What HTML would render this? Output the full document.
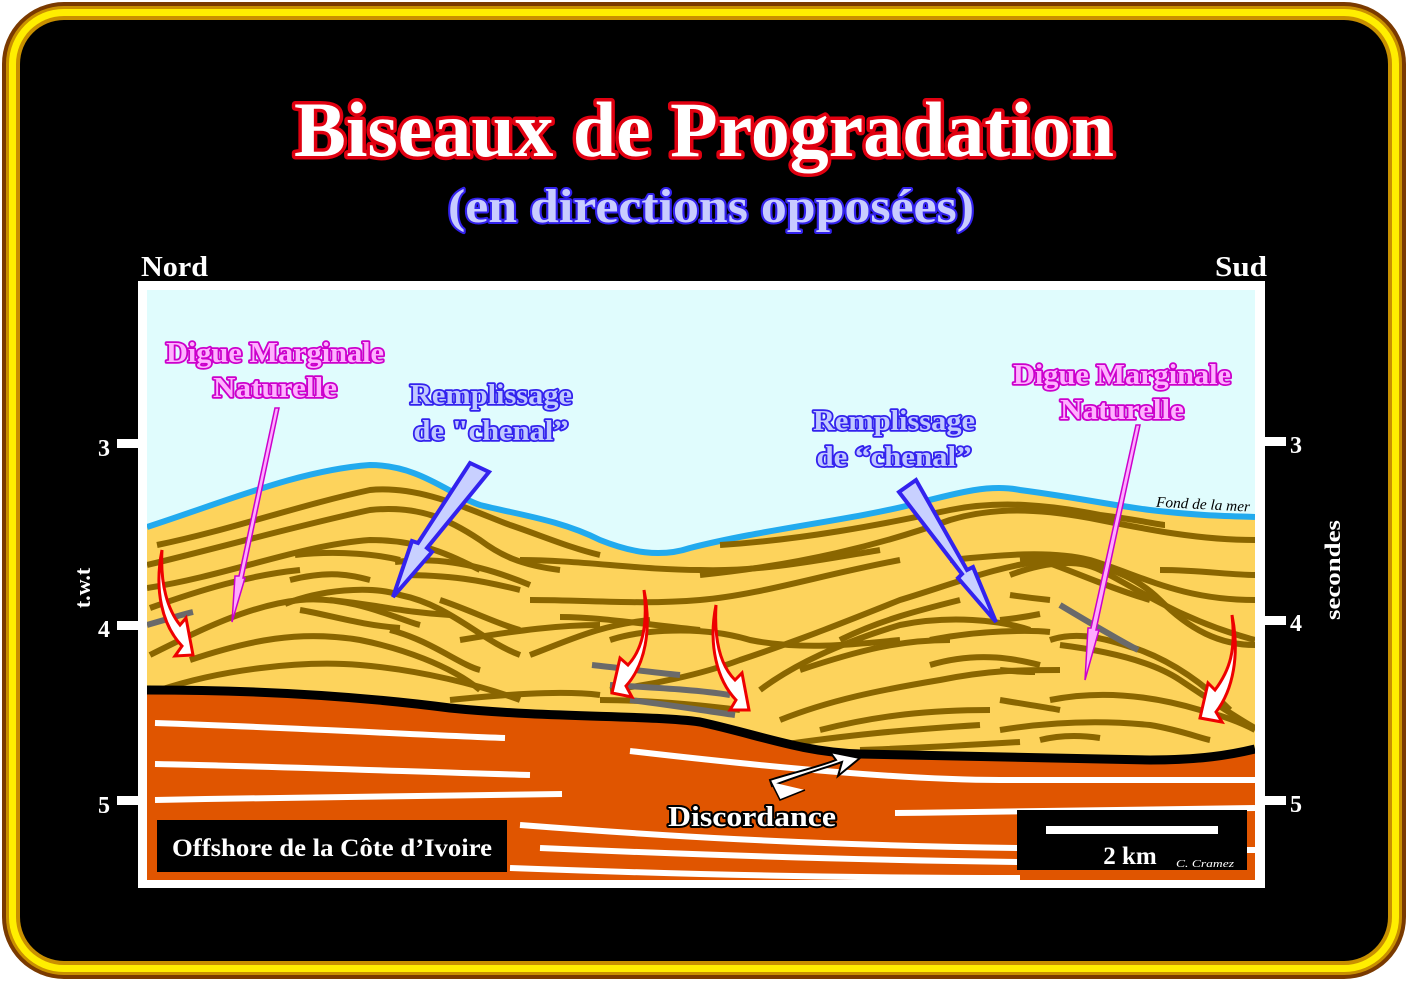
<!DOCTYPE html>
<html><head><meta charset="utf-8"><style>
html,body{margin:0;padding:0;background:#fff;}
svg{display:block;}
</style></head><body>
<svg width="1408" height="981" viewBox="0 0 1408 981" xmlns="http://www.w3.org/2000/svg">
<defs>
<clipPath id="cp"><rect x="147" y="290" width="1108" height="590"/></clipPath>
</defs>
<rect width="1408" height="981" fill="#fff"/>
<rect x="2" y="2" width="1404" height="977" rx="62" fill="#7a3a00"/>
<rect x="6" y="6" width="1396" height="969" rx="58" fill="#c99000"/>
<rect x="9" y="9" width="1390" height="963" rx="55" fill="#ffee00"/>
<rect x="16" y="16" width="1376" height="949" rx="48" fill="#c99000"/>
<rect x="20" y="20" width="1368" height="941" rx="44" fill="#000"/>

<g font-family="Liberation Serif, serif" font-weight="bold" text-anchor="middle" paint-order="stroke" stroke-linejoin="round" lengthAdjust="spacingAndGlyphs">
<text x="704" y="156" font-size="78" fill="#fff" stroke="#e00010" stroke-width="7" textLength="820" lengthAdjust="spacingAndGlyphs">Biseaux de Progradation</text>
<text x="711" y="222" font-size="48" fill="#c8ccff" stroke="#3322ee" stroke-width="4" textLength="526" lengthAdjust="spacingAndGlyphs">(en directions opposées)</text>
</g>
<g font-family="Liberation Serif, serif" font-weight="bold" fill="#fff">
<text x="141" y="276" font-size="28" textLength="67" lengthAdjust="spacingAndGlyphs">Nord</text>
<text x="1215" y="276" font-size="28" textLength="52" lengthAdjust="spacingAndGlyphs">Sud</text>
<text x="104" y="456" font-size="24" text-anchor="middle">3</text>
<text x="104" y="637" font-size="24" text-anchor="middle">4</text>
<text x="104" y="813" font-size="24" text-anchor="middle">5</text>
<text x="1296" y="453" font-size="24" text-anchor="middle">3</text>
<text x="1296" y="631" font-size="24" text-anchor="middle">4</text>
<text x="1296" y="812" font-size="24" text-anchor="middle">5</text>
<text transform="translate(90,588) rotate(-90)" font-size="22" text-anchor="middle">t.w.t</text>
<text transform="translate(1340,570) rotate(-90)" font-size="22" text-anchor="middle" textLength="100" lengthAdjust="spacingAndGlyphs">secondes</text>
</g>
<g fill="#fff">
<rect x="117" y="439" width="22" height="9"/><rect x="117" y="621" width="22" height="9"/><rect x="117" y="796" width="22" height="9"/>
<rect x="1264" y="437" width="22" height="9"/><rect x="1264" y="616" width="22" height="9"/><rect x="1264" y="796" width="22" height="9"/>
</g>

<rect x="138" y="281" width="1127" height="607" fill="#fff"/>
<g clip-path="url(#cp)">
<rect x="147" y="290" width="1108" height="590" fill="#e0fcfd"/>
<path d="M147,527 C230,500 300,470 370,465 C420,465 450,495 480,505 C520,515 560,520 600,540 C630,552 660,558 690,548 C760,530 850,520 910,505 C960,492 990,484 1020,490 C1080,498 1110,505 1150,510 C1200,516 1230,516 1255,517 L1255,880 L147,880 Z" fill="#fdd35c"/>
<path d="M147,527 C230,500 300,470 370,465 C420,465 450,495 480,505 C520,515 560,520 600,540 C630,552 660,558 690,548 C760,530 850,520 910,505 C960,492 990,484 1020,490 C1080,498 1110,505 1150,510 C1200,516 1230,516 1255,517" fill="none" stroke="#22aaee" stroke-width="6"/>
<g fill="none" stroke="#8a6600" stroke-width="6" stroke-linecap="butt">
<path d="M157,545 C230,530 300,505 370,490 C420,485 470,510 510,525 C540,535 570,548 600,555"/>
<path d="M147,565 C230,545 300,525 370,510 C420,505 450,520 480,540 C500,555 520,565 560,570"/>
<path d="M147,588 C230,575 300,545 370,540 C420,540 450,555 480,570"/>
<path d="M150,608 C200,590 250,575 300,570"/>
<path d="M150,655 C200,630 250,605 300,600 C350,595 400,620 420,625"/>
<path d="M190,660 C250,640 300,630 360,640 C400,648 450,665 480,690"/>
<path d="M160,690 C220,670 300,660 360,665 C420,670 480,685 520,700"/>
<path d="M290,580 C330,570 350,575 370,580"/>
<path d="M285,604 C320,590 370,585 400,595 C450,605 480,640 520,655"/>
<path d="M300,610 C330,615 360,625 400,628"/>
<path d="M330,600 C380,605 400,612 450,615"/>
<path d="M295,555 C340,550 380,555 400,560"/>
<path d="M400,575 C450,575 480,580 520,590"/>
<path d="M395,562 C430,558 470,560 530,585"/>
<path d="M390,630 C430,640 460,665 480,670"/>
<path d="M440,600 C470,610 500,625 520,630"/>
<path d="M460,640 C520,630 560,625 600,625"/>
<path d="M450,700 C500,695 560,690 600,695"/>
<path d="M530,655 C570,640 600,625 650,620"/>
<path d="M600,700 C650,700 700,705 740,710"/>
<path d="M520,560 C580,560 640,570 700,570 C760,572 820,560 880,550"/>
<path d="M530,600 C590,600 640,605 700,600 C760,595 820,575 900,560"/>
<path d="M560,617 C600,617 650,625 700,630"/>
<path d="M610,640 C640,630 700,625 750,640 C800,650 850,645 900,640"/>
<path d="M610,690 C650,685 700,675 740,660 C800,640 850,620 900,600 C950,585 1000,565 1050,560"/>
<path d="M700,575 C800,565 880,545 950,520 C1000,505 1050,510 1100,520 C1150,530 1200,540 1255,540"/>
<path d="M720,545 C800,540 880,525 950,510 C1000,500 1050,505 1100,515 C1140,520 1160,525 1165,525"/>
<path d="M760,690 C800,660 850,640 900,625 C950,615 1000,620 1030,630"/>
<path d="M780,720 C830,700 880,690 940,680 C990,670 1020,670 1060,670"/>
<path d="M800,670 C860,650 900,640 950,640"/>
<path d="M840,640 C880,620 920,610 960,600"/>
<path d="M820,730 C880,715 930,710 990,710"/>
<path d="M780,745 C850,735 900,730 980,725"/>
<path d="M860,750 C920,748 970,745 1020,742"/>
<path d="M930,640 C980,630 1030,630 1050,632"/>
<path d="M930,665 C980,650 1020,660 1040,665"/>
<path d="M1010,575 C1050,560 1080,560 1100,570 C1140,590 1180,620 1255,640"/>
<path d="M1010,595 C1030,598 1050,600 1050,600"/>
<path d="M1000,620 C1020,618 1030,616 1040,614"/>
<path d="M950,560 C1000,555 1050,550 1090,560 C1140,575 1180,600 1255,600"/>
<path d="M1020,560 C1080,555 1130,570 1160,600 C1190,630 1220,645 1255,645"/>
<path d="M1050,640 C1080,630 1110,640 1140,650 C1180,665 1210,690 1230,710"/>
<path d="M1060,645 C1100,650 1150,660 1180,680 C1210,700 1240,720 1255,728"/>
<path d="M1000,670 C1020,672 1030,672 1035,672"/>
<path d="M1050,700 C1100,690 1150,695 1200,710 C1220,715 1240,722 1255,730"/>
<path d="M1000,730 C1050,722 1100,720 1150,725 C1180,730 1200,738 1210,740"/>
<path d="M1040,740 C1060,735 1080,735 1100,738"/>
<path d="M1000,700 C1030,705 1050,708 1060,710"/>
<path d="M1025,555 C1060,565 1100,585 1150,600"/>
<path d="M1160,570 C1200,570 1230,575 1255,575"/>
</g>
<g fill="none" stroke="#6a6a6a" stroke-width="6">
<path d="M147,625 C165,620 180,615 193,612"/>
<path d="M592,665 C620,668 650,672 680,675"/>
<path d="M610,685 C660,688 700,690 730,695"/>
<path d="M630,700 C670,705 700,710 735,715"/>
<path d="M1060,605 C1085,620 1110,635 1138,650"/>
</g>
<path d="M147,690 C250,690 350,695 450,708 C550,718 650,715 700,722 C760,735 800,752 860,754 C950,756 1050,758 1150,760 C1200,760 1230,755 1255,749 L1255,880 L147,880 Z" fill="#e05500"/>
<path d="M147,690 C250,690 350,695 450,708 C550,718 650,715 700,722 C760,735 800,752 860,754 C950,756 1050,758 1150,760 C1200,760 1230,755 1255,749" fill="none" stroke="#000" stroke-width="9"/>
<g fill="none" stroke="#fff" stroke-width="6">
<path d="M155,723 C300,728 420,735 505,738"/>
<path d="M155,764 C300,767 420,772 530,775"/>
<path d="M155,800 C300,797 450,795 562,794"/>
<path d="M630,751 C750,765 900,780 1000,780 C1100,780 1200,780 1255,780"/>
<path d="M895,813 C1000,812 1100,810 1255,808"/>
<path d="M520,825 C650,835 800,845 1020,848"/>
<path d="M540,848 C700,855 850,860 1020,862"/>
<path d="M510,868 C700,875 850,878 1020,878"/>
<path d="M1240,850 L1255,850"/>
</g>
</g>

<g fill="#fff" stroke="#ee0000" stroke-width="3" stroke-linejoin="miter">
<path d="M162,550 C160,585 168,610 180,625 L186,618 L193,655 L175,656 L182,646 C162,625 154,590 162,550 Z"/>
<path d="M644,590 C648,625 642,650 628,665 L620,658 L612,693 L632,697 L626,686 C645,665 652,630 644,590 Z"/>
<path d="M716,605 C714,640 720,665 735,680 L742,673 L749,710 L730,710 L736,700 C717,680 708,645 716,605 Z"/>
<path d="M1232,615 C1236,650 1230,670 1215,690 L1208,683 L1200,718 L1222,722 L1216,712 C1233,690 1240,655 1232,615 Z"/>
</g>
<path d="M772,786 C800,775 825,768 842,762 L838,776 L860,758 L830,752 L836,760 C815,768 795,772 770,780 Z" fill="#fff" stroke="#000" stroke-width="2"/>
<path d="M771,782 L780,800 L805,790" fill="#fff" stroke="#000" stroke-width="1.5"/>

<path d="M470,463 L489,472 L427,548 L432,552 L393,597 L412,541 L418,543 Z" fill="#c8d0ff" stroke="#3322ee" stroke-width="4" stroke-linejoin="miter"/>
<path d="M899,492 L916,480 L967,570 L973,567 L996,622 L958,578 L962,574 Z" fill="#c8d0ff" stroke="#3322ee" stroke-width="4" stroke-linejoin="miter"/>

<g fill="#ffaaff" stroke="#cc00cc" stroke-width="1.5">
<path d="M275,408 L279,408 L243,578 L245,578 L232,622 L235,576 L239,576 Z"/>
<path d="M1136,425 L1140,425 L1096,630 L1099,630 L1085,680 L1088,628 L1091,628 Z"/>
</g>

<g font-family="Liberation Serif, serif" font-weight="bold" text-anchor="middle" paint-order="stroke" stroke-linejoin="round" font-size="29">
<g fill="#ffb0ff" stroke="#cc00cc" stroke-width="3.5">
<text x="275" y="362" textLength="218" lengthAdjust="spacingAndGlyphs">Digue Marginale</text>
<text x="275" y="397" textLength="124" lengthAdjust="spacingAndGlyphs">Naturelle</text>
<text x="1122" y="384" textLength="218" lengthAdjust="spacingAndGlyphs">Digue Marginale</text>
<text x="1122" y="419" textLength="124" lengthAdjust="spacingAndGlyphs">Naturelle</text>
</g>
<g fill="#c0c8ff" stroke="#3322ee" stroke-width="3.5">
<text x="491" y="404" textLength="162" lengthAdjust="spacingAndGlyphs">Remplissage</text>
<text x="491" y="440" textLength="155" lengthAdjust="spacingAndGlyphs">de "chenal”</text>
<text x="894" y="430" textLength="162" lengthAdjust="spacingAndGlyphs">Remplissage</text>
<text x="894" y="466" textLength="155" lengthAdjust="spacingAndGlyphs">de “chenal”</text>
</g>
<text x="752" y="826" fill="#fff" stroke="#000" stroke-width="4" textLength="168" lengthAdjust="spacingAndGlyphs">Discordance</text>
</g>
<text x="1156" y="509" font-family="Liberation Serif, serif" font-style="italic" font-size="15" fill="#000" transform="rotate(3 1200 505)" textLength="94" lengthAdjust="spacingAndGlyphs">Fond de la mer</text>

<rect x="157" y="820" width="350" height="52" fill="#000"/>
<text x="332" y="856" font-family="Liberation Serif, serif" font-weight="bold" font-size="25" fill="#fff" text-anchor="middle" textLength="320" lengthAdjust="spacingAndGlyphs">Offshore de la Côte d’Ivoire</text>
<rect x="1017" y="810" width="230" height="60" fill="#000"/>
<rect x="1046" y="826" width="172" height="8" fill="#fff"/>
<text x="1130" y="864" font-family="Liberation Serif, serif" font-weight="bold" font-size="25" fill="#fff" text-anchor="middle">2 km</text>
<text x="1176" y="867" font-family="Liberation Serif, serif" font-style="italic" font-size="11" fill="#fff" textLength="58" lengthAdjust="spacingAndGlyphs">C. Cramez</text>
</svg>
</body></html>
